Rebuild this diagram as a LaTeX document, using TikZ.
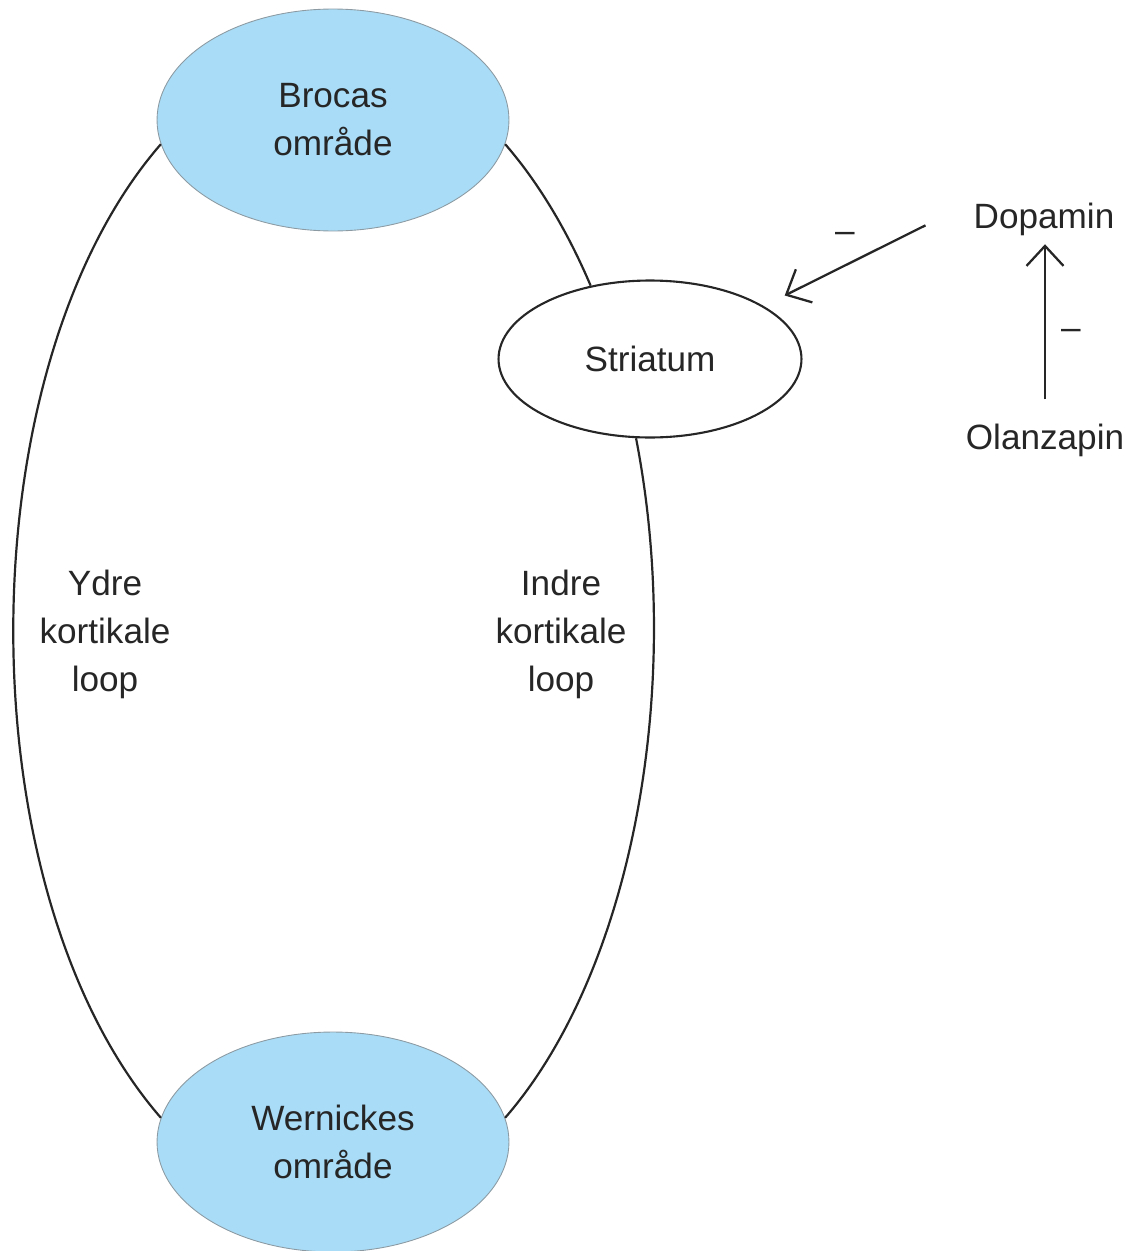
\documentclass[tikz,border=0pt]{standalone}
\usepackage{fontspec}
\setmainfont{Liberation Sans}
\usetikzlibrary{arrows.meta, positioning, shapes.geometric}
\definecolor{carea}{HTML}{A9DCF6}
\definecolor{cedge}{HTML}{8C9BA3}
\definecolor{cink}{HTML}{262626}

\begin{document}
\begin{tikzpicture}[
  x=0.02cm, y=-0.02cm,
  font=\fontsize{20}{27.3}\selectfont, text=cink,
  area/.style={ellipse, draw=cedge, line width=0.5pt, fill=carea, inner sep=0pt,
               align=center, minimum width=7.04cm, minimum height=4.44cm},
  hub/.style={ellipse, draw=cink, line width=1.2pt, fill=white, inner sep=0pt,
              minimum width=6.06cm, minimum height=3.14cm},
  tag/.style={inner sep=0pt, align=center},
  sign/.style={inner sep=0pt, font=\fontsize{20}{20}\selectfont},
  loop/.style={draw=cink, line width=1.25pt},
  arr/.style={draw=cink, line width=1.3pt, -{Straight Barb[length=0.4cm, width=0.74cm]}},
]
\useasboundingbox (0,0) rectangle (1131,1251);
% Areas
\node[area] (broca) at (333,120) {Brocas\\område};
\node[area, minimum height=4.4cm] (wernicke) at (333,1142) {Wernickes\\område};
\node[hub] (striatum) at (650,359) {Striatum};
% Loop labels
\node[tag] (ydre) at (105,634) {Ydre\\kortikale\\loop};
\node[tag] (indre) at (561,634) {Indre\\kortikale\\loop};
% Drugs
\node[tag] (dopamin) at (1044,219) {Dopamin};
\node[tag] (olanzapin) at (1045,440) {Olanzapin};
\node[sign] (minus1) at (845,237) {–};
\node[sign] (minus2) at (1071,334) {–};
% Loops
\draw[loop] (broca.188) to[out=229, in=131, looseness=0.79] (wernicke.172);
\draw[loop] (broca.-8) to[out=-49, in=113, out looseness=0.77, in looseness=0.93] (striatum.129);
\draw[loop] (striatum.260) to[out=-79, in=49, out looseness=0.95, in looseness=0.71] (wernicke.8);
% Arrows
\draw[arr, shorten <=1.07cm, shorten >=0.47cm] ([yshift=0.35cm]dopamin.west) -- (striatum.25);
\draw[arr, shorten <=0.48cm, shorten >=0.17cm] (olanzapin.north) -- (olanzapin.north |- dopamin.south);
\end{tikzpicture}
\end{document}
